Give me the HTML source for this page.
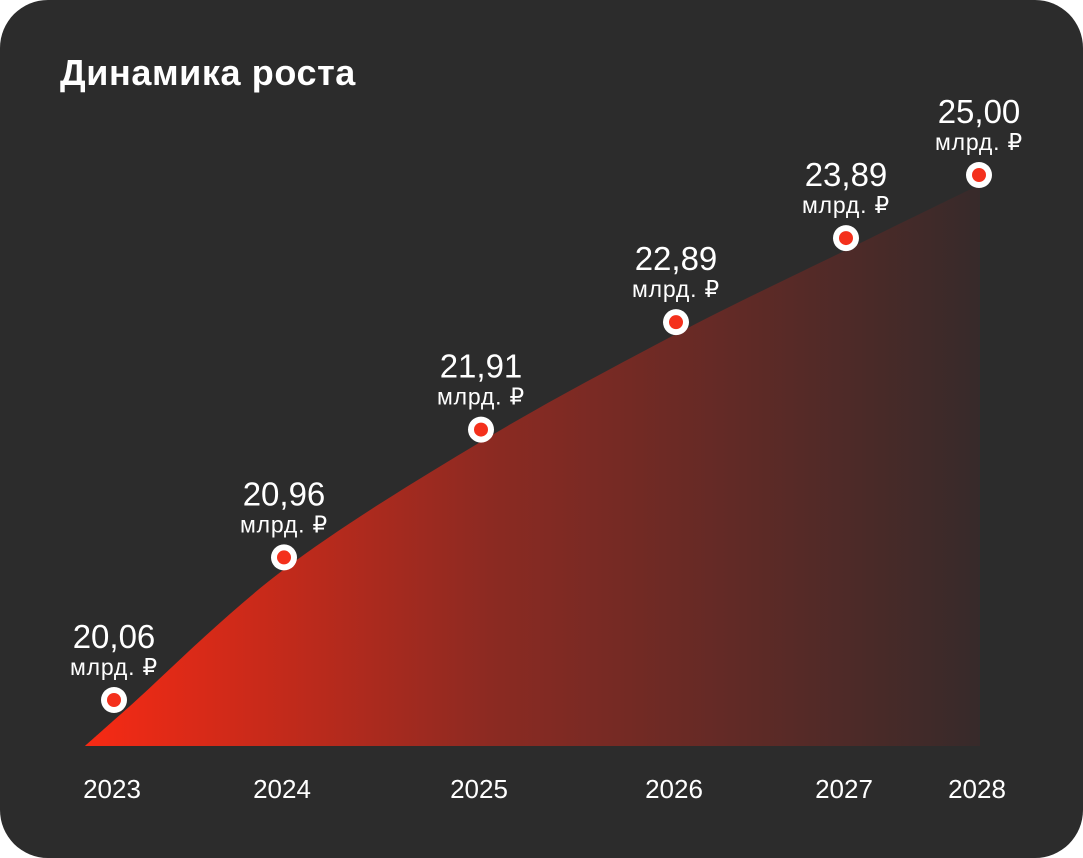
<!DOCTYPE html>
<html><head><meta charset="utf-8">
<style>
html,body{margin:0;padding:0;background:#fff;}
#card{position:absolute;left:0;top:0;width:1083px;height:858px;background:#2c2c2c;border-radius:48px;overflow:hidden;font-family:"Liberation Sans","DejaVu Sans",sans-serif;}
#title{position:absolute;left:60px;top:52px;color:#fff;font-size:36px;font-weight:bold;letter-spacing:0.6px;}
svg{position:absolute;left:0;top:0;}
</style></head>
<body>
<div id="card">
<div id="title">Динамика роста</div>
<svg id="chart" width="1083" height="858">
<defs>
<linearGradient id="g" x1="85" y1="0" x2="985" y2="0" gradientUnits="userSpaceOnUse">
<stop offset="0" stop-color="#f72a14"/>
<stop offset="0.45" stop-color="#8c2a22"/>
<stop offset="1" stop-color="#362a2a"/>
</linearGradient>
</defs>
</svg>
</div>
<script>
const years = ["2023","2024","2025","2026","2027","2028"];
const values = [20.06, 20.96, 21.91, 22.89, 23.89, 25.00];
const valueLabels = ["20,06","20,96","21,91","22,89","23,89","25,00"];
const unitLabel = "млрд. ₽";

const svg = document.getElementById('chart');
const NS = 'http://www.w3.org/2000/svg';
const xPos = [114, 284, 481, 676, 846, 979];
function xScale(i){ return xPos[i]; }
const vMin = Math.min(...values), vMax = Math.max(...values);
function yScale(v){
  const r = Math.max(0,(v - vMin)) / (vMax - vMin || 1);
  const t = r + 0.6 * r * (1 - r);
  return 700 - 525 * t;
}
function mk(tag, attrs){ const e=document.createElementNS(NS,tag); for(const k in attrs) e.setAttribute(k, attrs[k]); return e; }

// area
const P = [[85,746]].concat(values.map((v,i)=>[xScale(i)+(i===0?16:0)+(i===values.length-1?-4:0), yScale(v)+(i===0?6:12)]));
let d = `M85,746 `;
for(let i=0;i<P.length-1;i++){
  const p0=P[Math.max(0,i-1)], p1=P[i], p2=P[i+1], p3=P[Math.min(P.length-1,i+2)];
  const c1=[p1[0]+(p2[0]-p0[0])/6, p1[1]+(p2[1]-p0[1])/6];
  const c2=[p2[0]-(p3[0]-p1[0])/6, p2[1]-(p3[1]-p1[1])/6];
  d += `C${c1[0]},${c1[1]} ${c2[0]},${c2[1]} ${p2[0]},${p2[1]} `;
}
d += `L980,${P[P.length-1][1]} L980,746 Z`;
const area = mk('path',{d:d, fill:'url(#g)'});


svg.appendChild(area);

values.forEach((v,i)=>{
  const x=xScale(i), y=yScale(v);
  const outer = mk('circle',{cx:x,cy:y,r:13,fill:'#fff'});
  
  
  svg.appendChild(outer);
  const inner = mk('circle',{cx:x,cy:y,r:7,fill:'#f4301c'});
  
  
  svg.appendChild(inner);
  const vt = mk('text',{x:x,y:y-52,'text-anchor':'middle',fill:'#fff','font-size':'33'});
  vt.textContent = valueLabels[i];
  
  
  svg.appendChild(vt);
  const ut = mk('text',{x:x,y:y-25,'text-anchor':'middle',fill:'#fff','font-size':'23','letter-spacing':'0.8'});
  ut.textContent = unitLabel;
  
  
  svg.appendChild(ut);
  const yt = mk('text',{x:x-2,y:798,'text-anchor':'middle',fill:'#fff','font-size':'26'});
  yt.textContent = years[i];
  
  
  svg.appendChild(yt);
});
</script>
</body></html>
